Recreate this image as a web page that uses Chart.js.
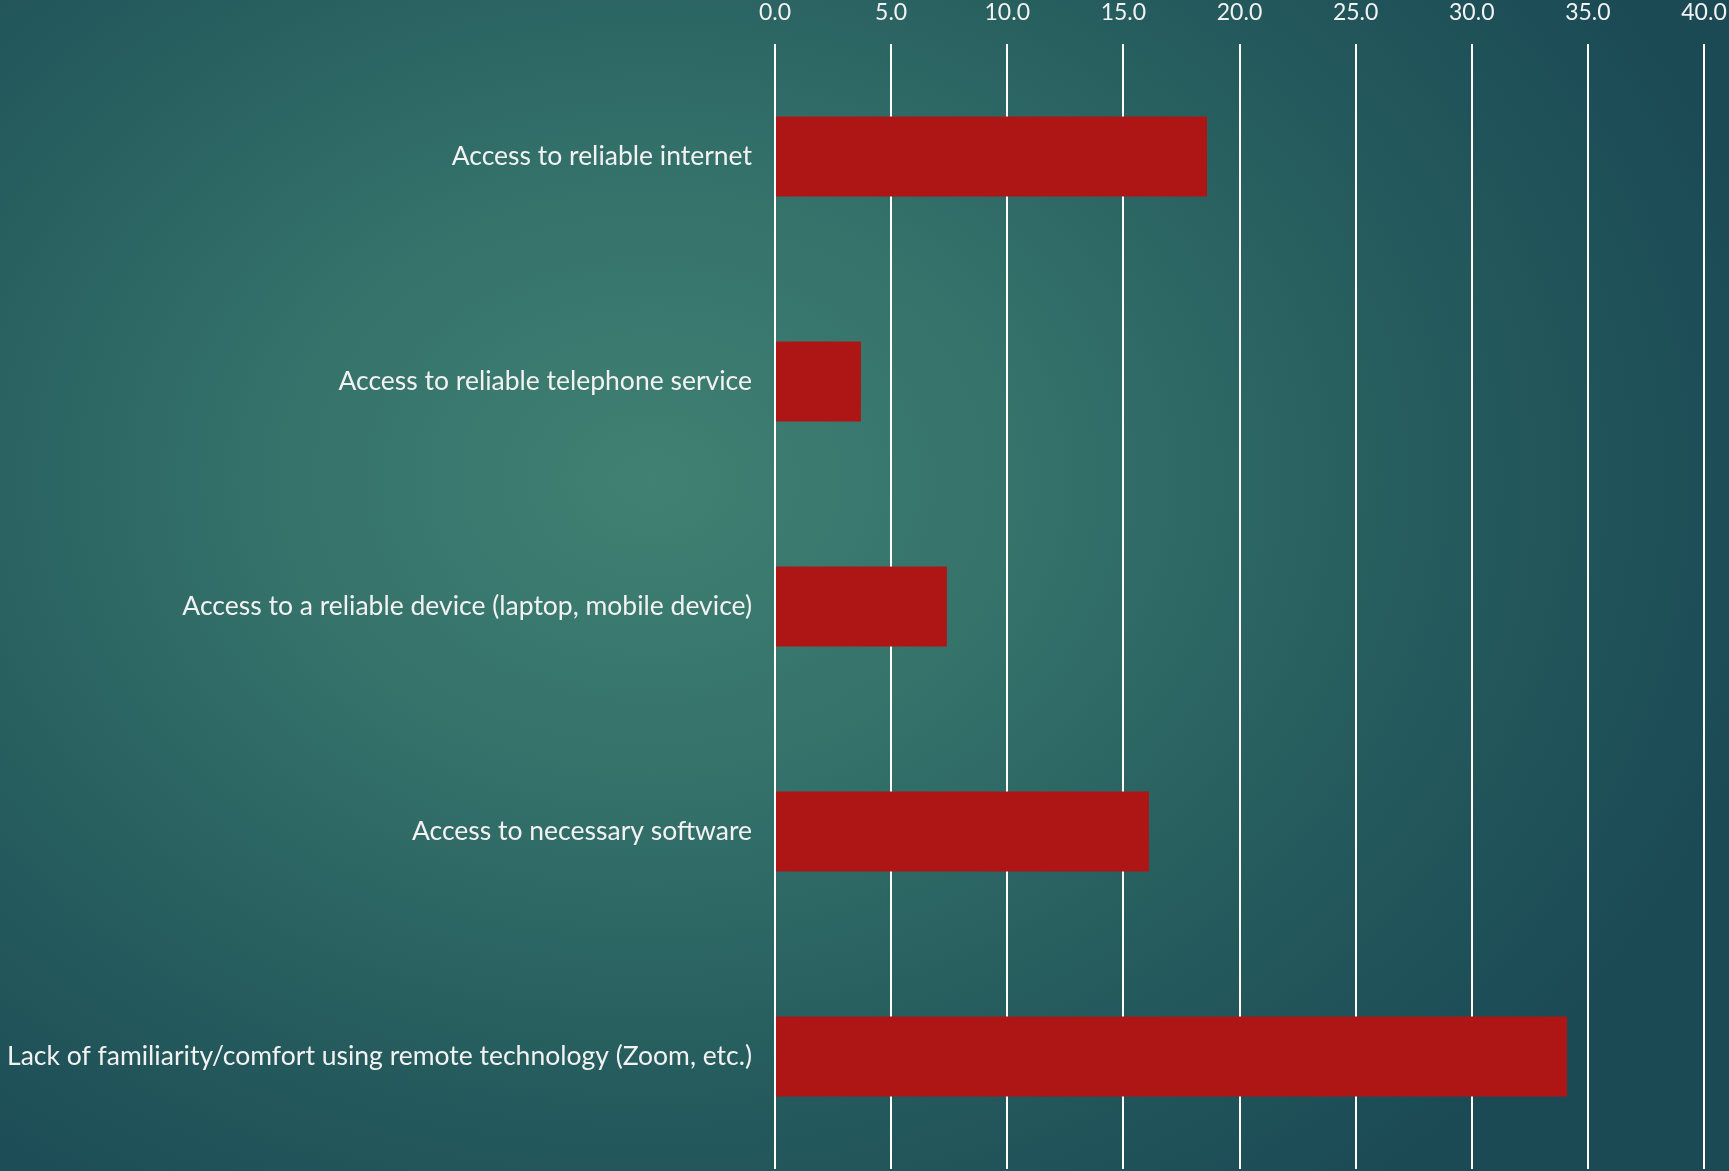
<!DOCTYPE html>
<html>
<head>
<meta charset="utf-8">
<script src="https://cdn.jsdelivr.net/npm/chart.js@4"></script>
<style>
  html, body { margin: 0; padding: 0; }
  body {
    width: 1729px; height: 1171px; overflow: hidden;
    background: radial-gradient(ellipse 1150px 900px at 650px 480px, #408173 0%, #34716a 35%, #265d5e 65%, #1b4a55 100%);
  }
  #wrap { position: absolute; left: 0; top: 0; width: 1729px; height: 1171px; }
</style>
</head>
<body>
<div id="wrap"><canvas id="c" width="1729" height="1171"></canvas></div>
<script>
const categories = [
  "Access to reliable internet",
  "Access to reliable telephone service",
  "Access to a reliable device (laptop, mobile device)",
  "Access to necessary software",
  "Lack of familiarity/comfort using remote technology (Zoom, etc.)"
];
const values = [18.6, 3.7, 7.4, 16.1, 34.1];
const axisMin = 0;
const axisMax = 40;
const axisStep = 5;

const FONT = "Lato, 'Open Sans', sans-serif";

new Chart(document.getElementById('c'), {
  type: 'bar',
  data: {
    labels: categories,
    datasets: [{
      data: values,
      backgroundColor: '#ae1615',
      borderWidth: 0,
      categoryPercentage: 1,
      barPercentage: 0.355
    }]
  },
  options: {
    indexAxis: 'y',
    responsive: false,
    devicePixelRatio: 1,
    animation: false,
    layout: { padding: { top: 0, right: 25, bottom: 2, left: 0 } },
    plugins: { legend: { display: false }, tooltip: { enabled: false } },
    scales: {
      x: {
        position: 'top',
        min: axisMin, max: axisMax,
        afterFit: (s) => { s.height = 44; s.paddingLeft = 0; s.paddingRight = 0; },
        ticks: {
          stepSize: axisStep,
          color: '#f2f2f2',
          font: { family: FONT, size: 23 },
          padding: 18,
          callback: (v) => Number(v).toFixed(1)
        },
        grid: { color: '#ffffff', lineWidth: 2, drawTicks: false },
        border: { display: false }
      },
      y: {
        afterFit: (s) => { s.width = 775; s.paddingTop = 0; s.paddingBottom = 0; },
        ticks: {
          color: '#f2f2f2',
          font: { family: FONT, size: 26.5 },
          padding: 23
        },
        grid: { display: false, drawTicks: false },
        border: { display: false }
      }
    }
  }
});
</script>
</body>
</html>
